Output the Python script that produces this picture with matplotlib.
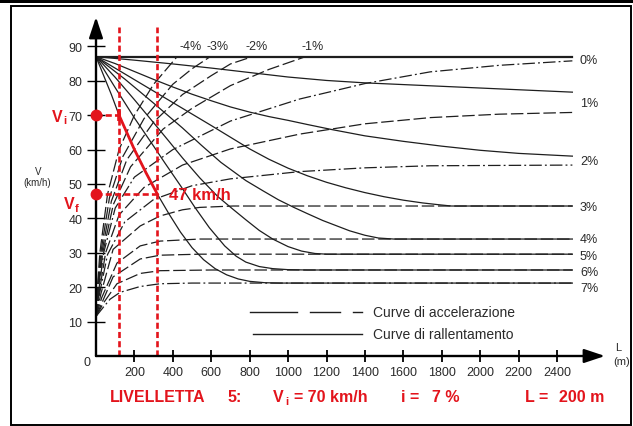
import matplotlib
matplotlib.use("Agg")
import matplotlib.pyplot as plt
from matplotlib.lines import Line2D
from matplotlib.patches import Rectangle

plt.rcParams["font.family"] = ["Liberation Sans", "DejaVu Sans"]

# ---------------------------------------------------------------- data
grades = ["0%", "1%", "2%", "3%", "4%", "5%", "6%", "7%"]
neg_grades = ["-4%", "-3%", "-2%", "-1%"]

# deceleration curves (L in m, V in km/h)
dec_L_0 = [0, 2480]
dec_V_0 = [87, 87]
dec_L_1 = [0, 200, 400, 600, 800, 1000, 1200, 1400, 1600, 1800, 2000, 2200, 2480]
dec_V_1 = [87, 86, 84.9, 83.7, 82.4, 81.1, 80.1, 79.4, 78.9, 78.4, 77.9, 77.4, 76.7]
dec_L_2 = [0, 100, 200, 300, 400, 500, 600, 700, 800, 900, 1000, 1100, 1230,
           1400, 1600, 1800, 2000, 2200, 2480]
dec_V_2 = [87, 85, 82.7, 80.4, 78.2, 76.1, 74.2, 72.4, 70.9, 69.6, 68.5, 67.3,
           65.8, 64, 62.4, 61, 59.8, 58.9, 58.1]
dec_L_3 = [0, 150, 300, 450, 600, 700, 800, 900, 1000, 1100, 1200, 1300, 1400,
           1500, 1600, 1700, 1780, 1850, 2480]
dec_V_3 = [87, 82, 77, 72, 67, 63.6, 60.2, 57.2, 54.6, 52.4, 50.5, 48.9, 47.5,
           46.3, 45.3, 44.5, 44, 43.6, 43.6]
dec_L_4 = [0, 150, 300, 450, 550, 650, 780, 870, 950, 1030, 1100, 1180, 1250,
           1320, 1400, 1470, 1550, 2480]
dec_V_4 = [87, 80.5, 73.5, 66.3, 61.2, 56.3, 51, 48, 45.4, 43.2, 41.4, 39.4,
           37.9, 36.4, 35.1, 34.3, 34, 34]
dec_L_5 = [0, 100, 200, 300, 380, 450, 540, 635, 710, 780, 850, 920, 1000,
           1070, 1140, 1200, 2480]
dec_V_5 = [87, 81, 74.5, 67.8, 62.4, 57.6, 51.8, 46.3, 42.8, 39.6, 36.5, 34,
           31.8, 30.5, 29.8, 29.6, 29.6]
dec_L_6 = [0, 100, 200, 300, 360, 440, 515, 590, 670, 730, 780, 850, 920,
           1000, 1100, 2480]
dec_V_6 = [87, 78, 69.2, 61, 56, 49.5, 43.2, 37.3, 32, 29, 27.3, 26, 25.4,
           25.1, 25, 25]
dec_L_7 = [0, 40, 80, 120, 160, 200, 260, 320, 380, 440, 500, 560, 620, 680,
           740, 800, 880, 960, 2480]
dec_V_7 = [87, 81.5, 76, 70, 65, 60, 53.3, 47, 41.3, 36, 31.5, 28, 25.4, 23.6,
           22.4, 21.7, 21.3, 21.2, 21.2]

# acceleration curves
acc_L_m4 = [0, 5, 20, 60, 120, 200, 300, 422]
acc_V_m4 = [11.5, 18, 30, 47, 60, 70, 79, 87]
acc_L_m3 = [0, 6, 25, 70, 140, 250, 400, 500, 594]
acc_V_m3 = [11.5, 18, 30, 46, 58, 69, 79, 83.5, 87]
acc_L_m2 = [0, 8, 30, 80, 160, 300, 450, 600, 700, 813]
acc_V_m2 = [11.5, 18, 30, 45, 57, 68, 76, 81.5, 84.9, 87]
acc_L_m1 = [0, 10, 35, 90, 180, 350, 500, 700, 900, 1090]
acc_V_m1 = [11.5, 18, 30, 44, 55, 66, 72, 78.6, 83.3, 87]
acc_L_0 = [0, 12, 40, 100, 200, 400, 700, 1060, 1400, 1740, 2100, 2480]
acc_V_0 = [11.5, 18, 30, 43, 52, 60, 68.3, 74.7, 79.2, 82.6, 84.5, 85.8]
acc_L_1 = [0, 15, 50, 120, 250, 450, 700, 1060, 1400, 1740, 2100, 2480]
acc_V_1 = [11.5, 18, 30, 41, 49, 55.5, 60.2, 64.5, 67.5, 69.3, 70.3, 70.8]
acc_L_2 = [0, 18, 60, 150, 300, 500, 700, 1060, 1400, 1740, 2480]
acc_V_2 = [11.5, 18, 29.5, 39, 45.5, 49.5, 51.5, 53.6, 54.7, 55.3, 55.5]
acc_L_3 = [0, 25, 89, 230, 333, 450, 540, 714, 2480]
acc_V_3 = [11.5, 18, 31, 37.8, 40.7, 42.5, 43.2, 43.6, 43.6]
acc_L_4 = [0, 30, 109, 230, 333, 540, 2480]
acc_V_4 = [11.5, 17, 27, 32, 33.4, 34, 34]
acc_L_5 = [0, 35, 89, 230, 333, 540, 2480]
acc_V_5 = [11.5, 16, 23, 28.2, 29.3, 29.6, 29.6]
acc_L_6 = [0, 40, 109, 230, 333, 600, 2480]
acc_V_6 = [11.5, 15.5, 21, 24, 24.8, 25, 25]
acc_L_7 = [0, 40, 73, 125, 230, 333, 500, 2480]
acc_V_7 = [11.5, 14.3, 16.5, 18.5, 20.2, 21, 21.2, 21.2]

x_ticks = [200, 400, 600, 800, 1000, 1200, 1400, 1600, 1800, 2000, 2200, 2400]
y_ticks = [10, 20, 30, 40, 50, 60, 70, 80, 90]

# worked example: grade 7%, entry speed 70 km/h, length 200 m
L_start, L_end = 120, 320
V_in, V_out = 70, 47

# ---------------------------------------------------------------- figure
W, H = 633, 427
RED = "#e3141c"
INK = "#1e1e1e"
TXT = "#2a2a2a"

fig = plt.figure(figsize=(W / 100, H / 100), dpi=100)
fig.patch.set_facecolor("white")


def fx(x):
    return x / W


def fy(y):
    return 1 - y / H


X0, Y0 = 96, 357
PX_PER_M = (557 - 96) / 2400
PX_PER_KMH = 3.44
X_END, Y_END = 605, 18
xmax = (X_END - X0) / PX_PER_M
ymax = (Y0 - Y_END) / PX_PER_KMH

ax = fig.add_axes([fx(X0), fy(Y0), (X_END - X0) / W, (Y0 - Y_END) / H])
ax.set_xlim(0, xmax)
ax.set_ylim(0, ymax)
ax.patch.set_alpha(0)
for s in ax.spines.values():
    s.set_visible(False)

# axes with arrow heads
arrow = dict(arrowstyle="-|>,head_length=0.9,head_width=0.3", lw=1.7,
             color="black", shrinkA=0, shrinkB=0, mutation_scale=14)
ax.annotate("", xy=(0, ymax), xytext=(0, 0), arrowprops=arrow,
            annotation_clip=False)
ax.annotate("", xy=(xmax, 0), xytext=(0, 0), arrowprops=arrow,
            annotation_clip=False)

ax.set_xticks(x_ticks)
ax.set_xticklabels([str(t) for t in x_ticks])
ax.set_yticks(y_ticks)
ax.set_yticklabels([str(t) for t in y_ticks])
ax.tick_params(axis="x", direction="inout", length=8, width=1.3, pad=3,
               labelsize=9, labelcolor=TXT, color="black")
ax.tick_params(axis="y", direction="inout", length=13.5, width=1.0, pad=3,
               labelsize=9, labelcolor=TXT, color="black")

# deceleration curves (solid)
dec_curves = [(dec_L_0, dec_V_0), (dec_L_1, dec_V_1), (dec_L_2, dec_V_2),
              (dec_L_3, dec_V_3), (dec_L_4, dec_V_4), (dec_L_5, dec_V_5),
              (dec_L_6, dec_V_6), (dec_L_7, dec_V_7)]
for k, (Ls, Vs) in enumerate(dec_curves):
    ax.plot(Ls, Vs, color=INK, lw=1.6 if k == 0 else 0.9,
            solid_joinstyle="round")

# acceleration curves (dashed / dash-dot)
acc_curves = [(acc_L_m4, acc_V_m4, "d"), (acc_L_m3, acc_V_m3, "d"),
              (acc_L_m2, acc_V_m2, "d"), (acc_L_m1, acc_V_m1, "d"),
              (acc_L_0, acc_V_0, "dd"), (acc_L_1, acc_V_1, "d"),
              (acc_L_2, acc_V_2, "dd"), (acc_L_3, acc_V_3, "d"),
              (acc_L_4, acc_V_4, "d"), (acc_L_5, acc_V_5, "d"),
              (acc_L_6, acc_V_6, "d"), (acc_L_7, acc_V_7, "dd")]
for Ls, Vs, st in acc_curves:
    dashes = (10, 3) if st == "d" else (10, 2.5, 1.5, 2.5)
    ax.plot(Ls, Vs, color=INK, lw=0.9, dashes=dashes)

# worked example in red
ax.plot([L_start, L_start], [0, 95.6], color=RED, lw=1.9, dashes=(2.3, 1.2),
        clip_on=False)
ax.plot([L_end, L_end], [0, 95.6], color=RED, lw=1.9, dashes=(2.3, 1.2),
        clip_on=False)
ax.plot([0, L_start], [V_in, V_in], color=RED, lw=1.9, dashes=(2.3, 1.2),
        clip_on=False)
ax.plot([0, L_end], [V_out, V_out], color=RED, lw=1.9, dashes=(2.3, 1.2),
        clip_on=False)
seg_L = [l for l in dec_L_7 if L_start <= l <= L_end]
seg_V = [v for l, v in zip(dec_L_7, dec_V_7) if L_start <= l <= L_end]
ax.plot(seg_L, seg_V, color=RED, lw=2.0)
ax.plot([0, 0], [V_in, V_out], "o", color=RED, ms=7.5, clip_on=False,
        zorder=5)
ax.plot([L_start], [V_in], "|", color=RED, ms=8, mew=2.6, zorder=5)
ax.text(L_end + 60, V_out, f"{V_out} km/h", color=RED, fontsize=12,
        fontweight="bold", ha="left", va="center")

# ---------------------------------------------------------------- labels
fig.text(fx(87), fy(363), "0", fontsize=9, color=TXT, ha="center",
         va="center")
fig.text(fx(38), fy(172), "V", fontsize=7, color=TXT, ha="center",
         va="center")
fig.text(fx(37), fy(183), "(km/h)", fontsize=7, color=TXT, ha="center",
         va="center")
fig.text(fx(618), fy(348), "L", fontsize=8, color=TXT, ha="center",
         va="center")
fig.text(fx(622), fy(362), "(m)", fontsize=8, color=TXT, ha="center",
         va="center")

# V_i / V_f markers on the speed axis
fig.text(fx(52), fy(117), "V", fontsize=11.5, color=RED, fontweight="bold",
         ha="left", va="center")
fig.text(fx(63), fy(121), "i", fontsize=8, color=RED, fontweight="bold",
         ha="left", va="center")
fig.text(fx(64), fy(205), "V", fontsize=11.5, color=RED, fontweight="bold",
         ha="left", va="center")
fig.text(fx(75), fy(209), "f", fontsize=8, color=RED, fontweight="bold",
         ha="left", va="center")

# grade labels
right_y = [61, 104, 162, 208, 240, 257, 273, 289]
for g, yy in zip(grades, right_y):
    fig.text(fx(580), fy(yy), g, fontsize=9, color=TXT, ha="left",
             va="center")
top_x = [191, 218, 257, 313]
for g, xx in zip(neg_grades, top_x):
    fig.text(fx(xx), fy(47), g, fontsize=9, color=TXT, ha="center",
             va="center")

# key
for a, b in [(250, 297), (310, 340), (353, 362)]:
    fig.add_artist(Line2D([fx(a), fx(b)], [fy(313), fy(313)], color=INK,
                          lw=1.0))
fig.add_artist(Line2D([fx(253), fx(362)], [fy(335), fy(335)], color=INK,
                      lw=1.0))
fig.text(fx(373), fy(313), "Curve di accelerazione", fontsize=10,
         color=TXT, ha="left", va="center")
fig.text(fx(373), fy(335), "Curve di rallentamento", fontsize=10,
         color=TXT, ha="left", va="center")

# bottom caption
cap = dict(color=RED, fontweight="bold", va="center", ha="left",
           fontsize=11.5)
fig.text(fx(110), fy(398), "LIVELLETTA", **cap)
fig.text(fx(227), fy(398), "5:", **cap)
fig.text(fx(273), fy(398), "V", **cap)
fig.text(fx(285), fy(402), "i", **{**cap, "fontsize": 8})
fig.text(fx(294), fy(398), "= 70 km/h", **cap)
fig.text(fx(401), fy(398), "i =", **cap)
fig.text(fx(432), fy(398), "7 %", **cap)
fig.text(fx(525), fy(398), "L =", **cap)
fig.text(fx(559), fy(398), "200 m", **cap)

# page frame
fig.add_artist(Rectangle((0, fy(4)), 1, 4 / H, color="black", lw=0))
fig.add_artist(Rectangle((fx(11), fy(426)), (631 - 11) / W, (426 - 7) / H,
                         fill=False, edgecolor="black", lw=1.4))

fig.savefig("out.png", dpi=100)
